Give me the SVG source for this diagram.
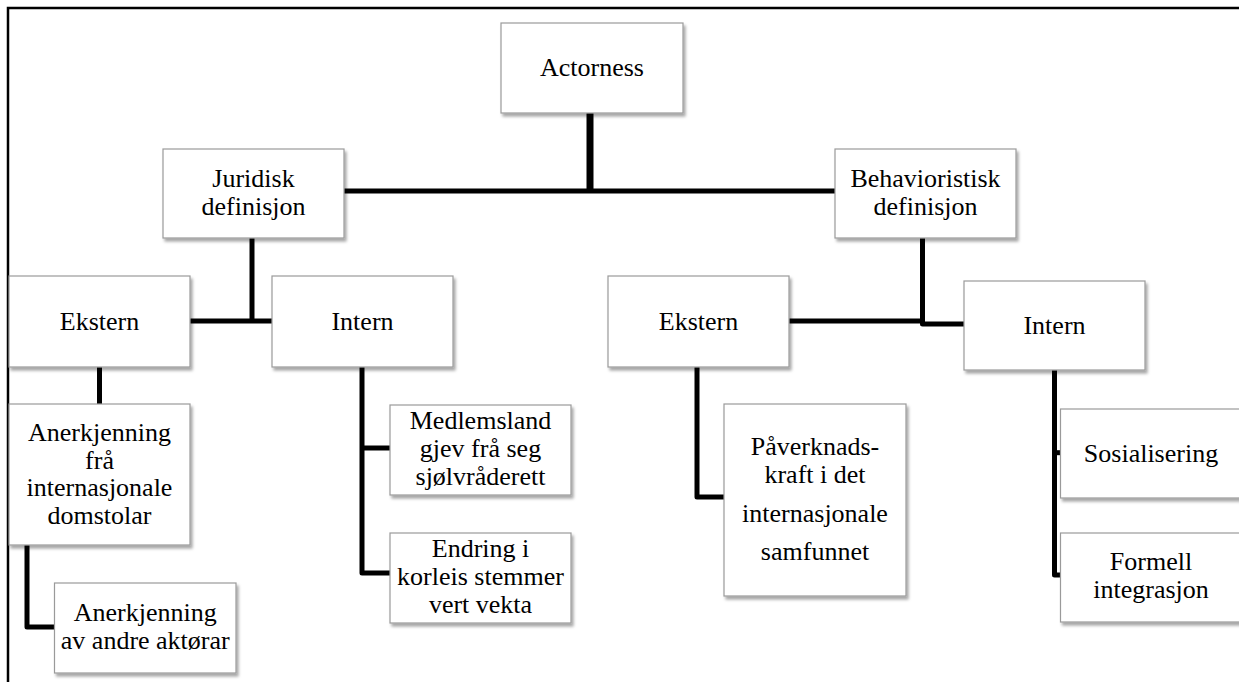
<svg xmlns="http://www.w3.org/2000/svg" width="1239" height="682" viewBox="0 0 1239 682">
  <defs>
    <filter id="sh" x="-10%" y="-10%" width="130%" height="130%">
      <feDropShadow dx="2" dy="3" stdDeviation="1.6" flood-color="#000" flood-opacity="0.35"/>
    </filter>
    <style>
      .box { fill: #ffffff; stroke: #9a9a9a; stroke-width: 1.2; filter: url(#sh); }
      .t { font-family: "Liberation Serif", "Times New Roman", serif; font-size: 26px; fill: #000; text-anchor: middle; }
      .c { fill: none; stroke: #000; stroke-width: 5; stroke-linejoin: round; }
    </style>
  </defs>
  <rect x="0" y="0" width="1239" height="682" fill="#ffffff"/>
  <path d="M8,682 V8 H1239" fill="none" stroke="#000" stroke-width="2.5"/>

  <g id="connectors">
    <path class="c" d="M590,113 V191" style="stroke-width:7"/>
    <path class="c" d="M344,191 H835"/>
    <path class="c" d="M252,238 V321"/>
    <path class="c" d="M190,321 H272"/>
    <path class="c" d="M922.5,238 V324 H964"/>
    <path class="c" d="M789,321 H922.5"/>
    <path class="c" d="M99.5,367 V404"/>
    <path class="c" d="M27,545 V627 H54.5"/>
    <path class="c" d="M362,367 V573 H390"/>
    <path class="c" d="M362,448 H390"/>
    <path class="c" d="M697,367 V497 H724"/>
    <path class="c" d="M1054.5,370 V575 H1060.5"/>
    <path class="c" d="M1054.5,452.7 H1060.5"/>
  </g>

  <g id="actorness">
    <rect class="box" x="501" y="23" width="182" height="90"/>
    <text class="t" x="592" y="76">Actorness</text>
  </g>
  <g id="juridisk">
    <rect class="box" x="163" y="149" width="181" height="89"/>
    <text class="t" x="253.5" y="187">Juridisk</text>
    <text class="t" x="253.5" y="215">definisjon</text>
  </g>
  <g id="behavioristisk">
    <rect class="box" x="835" y="149" width="181" height="89"/>
    <text class="t" x="925.5" y="187">Behavioristisk</text>
    <text class="t" x="925.5" y="215">definisjon</text>
  </g>
  <g id="ekstern-j">
    <rect class="box" x="9" y="276" width="181" height="91"/>
    <text class="t" x="99.5" y="330">Ekstern</text>
  </g>
  <g id="intern-j">
    <rect class="box" x="272" y="276" width="181" height="91"/>
    <text class="t" x="362.5" y="330">Intern</text>
  </g>
  <g id="ekstern-b">
    <rect class="box" x="608" y="276" width="181" height="91"/>
    <text class="t" x="698.5" y="330">Ekstern</text>
  </g>
  <g id="intern-b">
    <rect class="box" x="964" y="281" width="181" height="89"/>
    <text class="t" x="1054.5" y="334">Intern</text>
  </g>
  <g id="anerkjenning-domstolar">
    <rect class="box" x="9" y="404" width="181" height="141"/>
    <text class="t" x="99.5" y="441">Anerkjenning</text>
    <text class="t" x="99.5" y="468.5">frå</text>
    <text class="t" x="99.5" y="496">internasjonale</text>
    <text class="t" x="99.5" y="524">domstolar</text>
  </g>
  <g id="anerkjenning-aktorar">
    <rect class="box" x="54.5" y="583" width="181.5" height="90"/>
    <text class="t" x="145.25" y="621">Anerkjenning</text>
    <text class="t" x="145.25" y="649">av andre aktørar</text>
  </g>
  <g id="medlemsland">
    <rect class="box" x="390" y="405" width="181" height="90"/>
    <text class="t" x="480.5" y="428.5">Medlemsland</text>
    <text class="t" x="480.5" y="456.5">gjev frå seg</text>
    <text class="t" x="480.5" y="484.5">sjølvråderett</text>
  </g>
  <g id="endring">
    <rect class="box" x="390" y="533" width="181" height="90"/>
    <text class="t" x="480.5" y="557">Endring i</text>
    <text class="t" x="480.5" y="585">korleis stemmer</text>
    <text class="t" x="480.5" y="612.5">vert vekta</text>
  </g>
  <g id="paaverknad">
    <rect class="box" x="724" y="404" width="182" height="192"/>
    <text class="t" x="815" y="455">Påverknads-</text>
    <text class="t" x="815" y="483">kraft i det</text>
    <text class="t" x="815" y="522">internasjonale</text>
    <text class="t" x="815" y="560">samfunnet</text>
  </g>
  <g id="sosialisering">
    <rect class="box" x="1060.5" y="409" width="181" height="89"/>
    <text class="t" x="1151" y="462">Sosialisering</text>
  </g>
  <g id="formell">
    <rect class="box" x="1060.5" y="533" width="181" height="89"/>
    <text class="t" x="1151" y="570">Formell</text>
    <text class="t" x="1151" y="598">integrasjon</text>
  </g>
</svg>
